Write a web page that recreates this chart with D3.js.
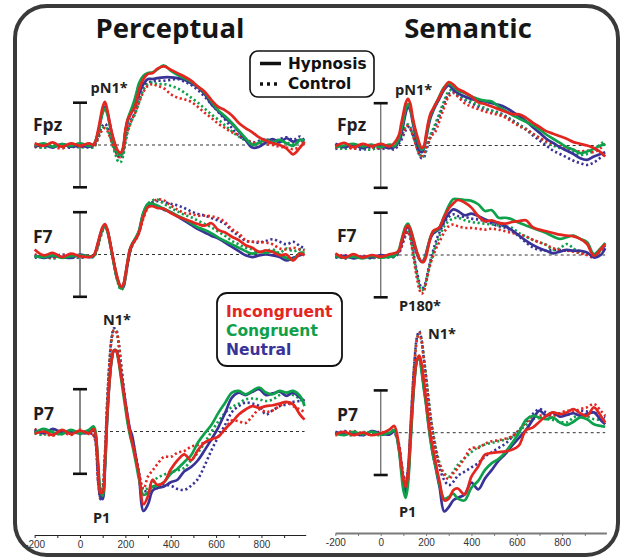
<!doctype html>
<html>
<head>
<meta charset="utf-8">
<style>
body { margin: 0; background: white; }
svg text { font-family: "Open Sans", Lato, sans-serif; }
</style>
<script src="https://cdnjs.cloudflare.com/ajax/libs/d3/7.8.5/d3.min.js"></script>
</head>
<body>
<div id="chart"></div>
<script>
// time points (ms)
var times = [-200,-160,-120,-80,-40,0,40,60, 80,90,100,110,120,130,140,150,160,170,180,190,200,210,220,230,240,250,260, 280,300,320,340, 370,400,430,460,490,520,550,580,610,640,670,700,730,760,790,820,850,880,910,940,970,990];

// amplitudes in microvolts (negative plotted up). H = hypnosis, C = control
// Perceptual - Fpz
var pFpzIncH = [-0.2,0.1,-0.3,0.2,-0.2,0.1,-0.2,0.0, -1.8,-3.2,-4.5,-5.1,-4.2,-2.8,-1.5,-0.5,0.3,0.8,0.9,0.3,-1.8,-3.0,-3.5,-4.0,-4.4,-5.3,-6.5, -7.8,-8.4,-8.5,-9.0, -9.3,-8.9,-8.5,-8.1,-7.6,-6.9,-6.3,-5.3,-4.5,-4.1,-3.5,-2.6,-2.0,-1.5,-0.9,-0.5,-0.2,0.0,0.4,1.1,0.3,-0.4];
var pFpzConH = [0.1,-0.2,0.2,-0.1,0.1,-0.2,0.1,-0.1, -1.4,-2.7,-3.8,-4.3,-3.7,-2.5,-1.2,-0.2,0.6,1.1,1.2,0.5,-1.5,-3.0,-3.8,-4.5,-5.3,-6.3,-7.3, -8.2,-8.5,-8.6,-8.9, -9.4,-8.8,-8.3,-7.9,-7.5,-6.9,-6.2,-5.1,-4.1,-3.4,-2.6,-1.7,-0.8,0.0,-0.3,-0.6,-0.3,-0.6,-0.2,0.1,-0.6,-0.5];
var pFpzNeuH = [0.2,0.0,0.3,-0.1,0.2,0.1,0.2,0.0, -1.5,-2.8,-4.0,-4.5,-3.9,-2.7,-1.4,-0.4,0.5,0.9,1.0,0.4,-1.5,-2.8,-3.5,-4.0,-4.5,-5.2,-6.0, -7.2,-7.8,-7.8,-7.9, -8.0,-8.0,-7.9,-7.7,-7.3,-6.8,-6.0,-4.8,-4.0,-3.2,-2.5,-1.6,-0.6,0.3,0.2,-0.3,-0.7,-0.3,-0.8,-0.4,-0.6,-0.5];
var pFpzIncC = [0.3,-0.1,0.2,0.4,0.0,0.2,0.1,0.2, -0.8,-1.4,-1.8,-2.0,-1.7,-1.1,-0.3,0.4,1.0,1.4,1.4,0.8,-0.6,-1.7,-2.4,-3.1,-3.6,-4.3,-5.0, -6.3,-7.0,-7.2,-7.0, -6.7,-6.0,-5.6,-5.4,-5.1,-4.5,-3.8,-3.2,-2.5,-2.0,-1.5,-1.2,-0.7,-0.3,-0.2,-0.1,0.0,0.2,0.3,0.5,0.2,-0.2];
var pFpzConC = [0.2,0.3,0.0,0.3,0.1,0.3,0.2,0.3, -0.8,-1.5,-2.0,-2.2,-1.9,-1.2,-0.3,0.6,1.4,2.0,2.0,1.3,-0.2,-1.5,-2.3,-3.0,-3.5,-4.2,-5.0, -6.5,-7.2,-7.4,-7.2, -7.2,-7.0,-6.7,-6.2,-5.6,-5.0,-4.3,-3.6,-3.0,-2.3,-1.6,-1.0,-0.5,-0.1,-0.1,-0.4,-0.2,-0.5,-0.3,-0.1,-0.4,-0.4];
var pFpzNeuC = [0.1,0.3,0.1,0.2,0.3,0.0,0.3,0.1, -1.0,-1.8,-2.3,-2.5,-2.2,-1.5,-0.6,0.2,0.9,1.4,1.5,1.0,-0.5,-1.8,-2.6,-3.2,-3.7,-4.5,-5.3, -6.8,-7.4,-7.5,-7.6, -7.6,-7.7,-7.8,-7.5,-7.1,-6.5,-5.7,-4.8,-3.9,-3.0,-2.0,-1.1,-0.6,-0.3,-0.5,-0.7,-0.4,-0.7,-0.9,-0.6,-1.0,-0.5];

// Perceptual - F7
var pF7IncH = [-0.6,0.1,-0.2,0.3,-0.1,0.2,0.3,0.1, -1.5,-2.5,-3.3,-3.6,-3.0,-1.8,-0.4,1.0,2.2,3.2,3.8,3.6,2.4,0.8,-0.6,-1.2,-1.6,-2.0,-2.6, -4.5,-5.6,-5.7,-5.5, -5.4,-4.9,-4.5,-4.2,-3.9,-3.6,-3.4,-3.7,-2.9,-2.6,-2.1,-1.7,-1.1,-0.8,-0.3,-0.5,-0.3,0.1,0.0,0.7,-0.1,0.1];
var pF7ConH = [0.2,0.3,0.1,0.4,0.2,0.1,0.2,0.2, -1.3,-2.3,-3.0,-3.3,-2.8,-1.6,-0.2,1.2,2.5,3.4,4.0,3.7,2.5,0.8,-0.6,-1.3,-1.7,-2.2,-2.8, -5.0,-6.0,-6.0,-5.8, -5.4,-5.0,-4.6,-4.2,-3.7,-3.2,-2.9,-2.5,-2.0,-1.6,-1.2,-0.8,-0.4,-0.1,-0.3,-0.2,-0.4,0.0,0.4,0.6,-0.2,-0.2];
var pF7NeuH = [0.1,0.4,0.2,0.3,0.4,0.0,0.3,0.2, -1.4,-2.4,-3.1,-3.4,-2.9,-1.7,-0.3,1.1,2.4,3.3,3.9,3.7,2.5,0.9,-0.5,-1.2,-1.7,-2.1,-2.7, -4.9,-5.9,-5.9,-5.7, -5.3,-5.0,-4.5,-4.0,-3.5,-3.0,-2.6,-2.2,-1.9,-1.4,-0.9,-0.4,0.1,0.3,0.1,0.0,0.1,0.3,0.7,0.4,0.1,-0.1];
var pF7IncC = [0.0,0.2,0.4,0.1,0.3,0.2,0.1,0.2, -1.2,-2.2,-3.0,-3.4,-3.0,-1.9,-0.5,1.0,2.4,3.4,4.0,3.9,2.8,1.2,-0.2,-1.0,-1.5,-1.9,-2.5, -4.3,-5.6,-6.2,-6.5, -6.4,-5.8,-5.3,-4.9,-4.8,-4.6,-4.6,-4.5,-4.3,-3.8,-3.0,-2.5,-1.7,-1.5,-1.5,-1.4,-1.2,-0.7,-0.6,-0.8,-0.6,-0.5];
var pF7ConC = [0.3,0.2,0.5,0.2,0.4,0.3,0.2,0.3, -1.0,-2.0,-2.8,-3.2,-2.9,-1.8,-0.4,1.1,2.6,3.6,4.2,4.0,2.9,1.2,-0.2,-1.0,-1.6,-2.1,-2.7, -4.8,-6.0,-6.4,-6.5, -6.0,-5.5,-5.1,-4.7,-4.4,-4.0,-3.6,-3.2,-2.7,-2.2,-1.6,-1.2,-0.8,-0.6,-0.3,-0.4,-0.6,-0.2,-0.7,-0.4,-0.6,-0.6];
var pF7NeuC = [0.4,0.1,0.3,0.0,0.2,0.4,0.2,0.1, -1.1,-2.1,-2.9,-3.3,-2.9,-1.8,-0.4,1.0,2.4,3.4,4.0,3.9,2.8,1.1,-0.3,-1.1,-1.6,-2.1,-2.7, -4.6,-5.8,-6.2,-6.3, -6.2,-6.0,-5.8,-5.5,-5.1,-4.8,-4.6,-4.3,-4.0,-3.6,-2.8,-2.2,-1.6,-1.5,-1.4,-1.6,-1.8,-1.5,-1.2,-1.5,-1.0,-0.7];

// Perceptual - P7
var pP7IncH = [0.3,0.0,0.4,-0.2,0.3,-0.1,0.2,-0.3, 4.0,7.2,7.2,3.5,-2.0,-6.0,-8.6,-9.6,-9.5,-8.5,-6.8,-5.1,-3.3,-1.6,0.0,1.3,2.4,3.7,5.0, 8.6,7.6,5.7,6.3, 6.0,4.5,3.4,2.7,3.4,2.2,1.3,0.9,0.6,-0.3,-1.1,-2.0,-2.6,-3.0,-2.8,-3.0,-3.1,-3.3,-3.5,-3.2,-2.0,-1.4];
var pP7ConH = [0.2,-0.3,0.1,0.3,-0.2,0.2,-0.2,-0.6, 3.8,7.0,7.6,4.2,-1.8,-6.0,-8.6,-9.6,-9.5,-8.3,-6.5,-4.6,-2.8,-1.0,0.4,1.5,2.8,4.2,5.6, 7.5,7.2,6.5,6.4, 6.0,5.0,4.4,3.6,2.8,1.3,0.2,-0.8,-2.2,-3.4,-4.6,-4.8,-4.4,-4.8,-5.2,-4.6,-4.4,-4.8,-4.6,-4.8,-4.2,-3.0];
var pP7NeuH = [-0.2,0.2,-0.3,0.1,0.0,0.2,0.1,-0.2, 4.5,7.5,8.0,4.5,-1.5,-5.8,-8.5,-9.6,-9.6,-8.6,-7.0,-5.3,-3.5,-1.8,-0.3,0.5,2.0,3.6,5.2, 9.4,8.6,7.0,6.7, 6.5,6.0,5.7,4.7,4.2,3.4,2.2,0.9,-0.5,-2.2,-4.0,-4.6,-4.3,-4.7,-5.0,-4.3,-4.5,-4.7,-4.2,-4.6,-4.0,-3.6];
var pP7IncC = [-0.3,0.2,0.5,0.1,0.4,-0.2,0.3,0.5, 6.0,7.8,6.5,2.5,-3.5,-8.0,-11.0,-12.0,-11.8,-10.5,-8.0,-5.5,-3.2,-1.2,0.3,1.2,2.2,3.5,5.0, 6.8,5.3,4.6,3.9, 3.0,3.0,2.5,2.3,1.8,1.6,1.3,1.0,0.6,-0.3,-1.3,-1.2,-1.0,-1.8,-2.6,-2.3,-2.5,-3.0,-3.4,-3.0,-2.6,-2.3];
var pP7ConC = [0.2,0.4,-0.2,0.3,0.0,0.3,0.1,0.4, 5.5,7.8,7.2,3.2,-3.2,-8.0,-11.0,-12.0,-11.8,-10.4,-8.0,-5.6,-3.3,-1.4,0.1,1.0,2.2,3.6,5.0, 6.8,6.7,6.0,5.5, 5.1,4.8,4.6,4.3,3.4,2.5,1.3,0.0,-1.2,-2.2,-2.9,-3.3,-3.8,-3.9,-3.8,-3.6,-3.8,-4.3,-4.5,-4.3,-3.8,-3.3];
var pP7NeuC = [0.1,-0.2,0.3,0.2,-0.1,0.1,0.2,0.4, 6.0,8.0,7.0,3.0,-3.5,-8.2,-11.2,-12.2,-12.0,-10.6,-8.2,-5.8,-3.5,-1.6,-0.2,0.8,2.0,3.5,5.0, 7.0,7.0,6.8,6.5, 6.3,6.4,6.8,6.9,6.4,5.6,4.0,2.2,0.6,-0.8,-2.3,-3.0,-3.4,-3.3,-3.0,-2.0,-2.5,-3.0,-3.2,-3.5,-3.6,-3.6];

// Semantic - Fpz
var sFpzIncH = [0.1,-0.3,0.2,-0.2,0.1,-0.2,0.1,-0.3, -1.2,-2.5,-3.8,-5.0,-5.5,-5.0,-3.5,-2.2,-1.2,-0.3,0.3,0.1,-1.3,-2.8,-3.8,-4.3,-4.8,-5.3,-5.8, -6.8,-7.5,-7.2,-6.7, -6.3,-5.8,-5.1,-4.9,-4.6,-4.3,-4.0,-3.7,-3.7,-3.3,-2.7,-2.2,-1.7,-1.4,-1.1,-0.8,-0.4,-0.2,0.0,0.3,0.8,1.3];
var sFpzConH = [0.2,0.0,-0.2,0.1,-0.1,0.2,-0.1,0.1, -0.8,-1.8,-3.0,-4.3,-4.9,-4.5,-3.2,-2.0,-0.9,0.0,0.5,0.3,-1.0,-2.5,-3.6,-4.2,-4.8,-5.3,-5.9, -6.9,-7.3,-7.0,-6.5, -6.2,-5.8,-5.5,-5.3,-5.2,-4.6,-4.1,-3.6,-3.2,-2.8,-2.4,-1.9,-1.3,-0.8,-0.3,0.2,0.5,0.9,0.7,0.4,0.0,-0.1];
var sFpzNeuH = [-0.2,0.2,-0.1,0.3,0.0,0.1,0.3,0.2, -0.5,-1.3,-2.5,-3.8,-4.6,-4.2,-2.9,-1.6,-0.5,0.5,0.8,0.4,-0.8,-2.2,-3.3,-4.0,-4.6,-5.1,-5.6, -6.6,-7.1,-6.6,-6.2, -5.8,-5.5,-5.3,-5.2,-5.0,-4.8,-4.5,-4.0,-3.5,-2.9,-2.2,-1.5,-0.8,-0.3,0.2,0.6,1.0,1.5,1.7,1.3,1.0,0.8];
var sFpzIncC = [0.3,0.1,0.4,-0.1,0.2,0.3,-0.1,0.2, -0.5,-1.0,-1.6,-2.1,-2.3,-2.0,-1.3,-0.5,0.3,0.9,1.2,0.9,0.2,-0.5,-1.0,-1.3,-1.6,-2.2,-3.0, -4.5,-5.8,-6.2,-5.8, -5.0,-4.6,-4.3,-4.0,-3.8,-3.6,-3.3,-2.8,-2.3,-1.9,-1.4,-0.9,-0.5,-0.2,0.1,0.3,0.5,0.7,0.6,0.8,0.3,-0.3];
var sFpzConC = [0.2,0.4,0.1,0.3,0.5,0.1,0.3,0.2, -0.4,-1.0,-1.6,-2.2,-2.5,-2.2,-1.4,-0.6,0.3,1.0,1.4,1.2,0.4,-0.5,-1.3,-1.9,-2.5,-3.2,-3.9, -5.3,-6.4,-6.6,-6.0, -5.5,-5.2,-4.8,-4.4,-4.1,-3.8,-3.4,-2.9,-2.4,-2.0,-1.4,-0.9,-0.4,0.0,0.3,0.5,0.8,1.1,1.0,0.6,-0.2,-0.5];
var sFpzNeuC = [0.4,0.2,0.3,0.5,0.2,0.4,0.3,0.5, -0.2,-0.6,-1.2,-1.8,-2.2,-2.0,-1.4,-0.6,0.3,1.1,1.5,1.4,0.7,-0.2,-1.0,-1.6,-2.2,-2.9,-3.6, -5.0,-6.1,-6.3,-5.9, -5.4,-5.0,-4.6,-4.3,-4.1,-3.9,-3.5,-3.0,-2.5,-1.9,-1.2,-0.6,0.0,0.6,1.0,1.4,1.8,2.1,2.3,2.0,1.4,0.9];

// Semantic - F7
var sF7IncH = [-0.2,0.3,-0.1,0.3,0.0,0.2,-0.1,-0.2, -0.5,-1.4,-2.4,-3.2,-3.5,-3.1,-2.2,-1.2,-0.3,0.4,0.8,0.8,0.2,-1.0,-2.1,-2.8,-3.0,-3.1,-3.3, -4.5,-5.5,-6.1,-6.5, -6.2,-5.6,-4.6,-4.0,-4.1,-3.8,-3.7,-3.9,-4.0,-4.1,-3.3,-3.0,-2.8,-2.6,-2.4,-2.3,-2.2,-1.9,-1.3,0.1,-0.7,-1.3];
var sF7ConH = [0.1,0.3,0.2,0.4,0.1,0.3,0.2,0.1, -0.6,-1.6,-2.6,-3.4,-3.7,-3.2,-2.3,-1.3,-0.3,0.4,0.8,0.7,0.0,-1.2,-2.2,-2.7,-2.9,-3.0,-3.3, -4.6,-5.8,-6.6,-6.6, -6.5,-6.4,-6.0,-5.2,-5.3,-4.4,-4.4,-4.2,-3.8,-3.5,-3.2,-2.9,-2.6,-2.2,-1.9,-2.1,-2.3,-1.9,-1.5,-0.1,-0.8,-1.4];
var sF7NeuH = [0.3,0.1,0.4,0.2,0.3,0.0,0.2,0.1, -0.4,-1.2,-2.2,-3.0,-3.3,-2.9,-2.0,-1.0,-0.1,0.5,0.8,0.6,-0.2,-1.2,-2.0,-2.5,-2.7,-2.9,-3.1, -4.0,-4.9,-5.4,-5.2, -4.7,-4.9,-4.6,-4.2,-3.9,-3.8,-3.4,-2.9,-2.3,-1.7,-1.2,-0.8,-0.5,-0.2,-0.4,-0.6,-0.5,-0.5,-0.3,0.3,0.0,-0.8];
var sF7IncC = [0.2,0.0,0.3,0.1,0.2,0.3,0.0,0.1, -0.3,-0.9,-1.7,-2.4,-2.8,-2.0,-0.5,1.2,2.8,4.0,4.6,4.3,3.3,2.0,1.0,0.2,-0.5,-1.1,-1.6, -2.7,-3.4,-3.6,-3.4, -3.2,-3.2,-3.1,-3.0,-3.1,-3.0,-2.8,-2.6,-2.4,-2.2,-1.8,-1.5,-1.2,-0.8,-0.6,-0.5,-0.4,-0.2,0.0,0.3,-0.5,-1.1];
var sF7ConC = [0.3,0.2,0.1,0.3,0.4,0.2,0.1,0.2, -0.4,-1.1,-1.9,-2.6,-3.0,-2.3,-0.8,0.8,2.3,3.5,4.2,4.0,3.1,1.9,0.8,-0.1,-0.9,-1.6,-2.3, -3.4,-4.0,-4.3,-4.4, -4.1,-3.9,-3.8,-3.7,-3.6,-3.5,-3.4,-3.2,-2.6,-2.2,-1.8,-1.5,-1.2,-0.6,-0.8,-1.3,-0.8,-0.2,-0.2,0.1,-0.6,-1.4];
var sF7NeuC = [0.1,0.4,0.2,0.2,0.3,0.1,0.3,0.2, -0.2,-0.8,-1.6,-2.3,-2.8,-2.2,-0.9,0.6,2.0,3.2,3.9,3.8,3.0,1.7,0.6,-0.4,-1.3,-2.1,-2.7, -3.8,-4.5,-4.8,-4.6, -4.5,-4.3,-4.2,-4.0,-3.7,-3.4,-3.2,-2.8,-2.2,-1.5,-0.9,-0.6,-0.5,-0.6,-0.6,-0.5,-0.6,-0.4,-0.2,0.1,-0.6,-1.2];

// Semantic - P7
var sP7IncH = [0.2,-0.1,0.3,0.0,0.3,0.1,-0.4,-0.8, 1.5,3.5,5.5,6.4,5.0,1.0,-3.5,-6.8,-8.6,-9.1,-8.2,-6.2,-3.9,-1.7,0.4,1.8,3.2,4.6,5.8, 8.0,7.8,6.8,6.6, 7.3,5.2,4.0,2.6,2.4,2.3,2.2,2.0,1.5,-0.3,-0.6,-1.3,-2.0,-2.4,-2.2,-2.4,-2.8,-2.3,-2.0,-3.0,-2.0,-1.2];
var sP7ConH = [0.1,0.3,-0.1,0.2,-0.1,0.2,0.0,-0.3, 2.0,4.5,6.8,7.7,6.2,2.0,-2.8,-6.5,-8.5,-8.8,-7.3,-5.2,-3.3,-1.0,1.0,2.6,3.8,5.0,6.2, 7.8,7.6,7.2,7.8, 8.0,6.5,5.7,4.4,3.6,3.1,2.3,1.2,0.0,-1.5,-2.0,-1.8,-1.6,-1.8,-1.2,-0.9,-1.3,-1.8,-1.6,-1.0,-0.8,-0.7];
var sP7NeuH = [-0.1,0.2,0.0,0.3,-0.2,0.1,0.2,-0.3, 1.8,4.0,6.0,7.0,5.5,1.5,-3.0,-6.6,-8.6,-9.0,-7.5,-5.5,-3.5,-1.2,0.8,2.5,3.8,5.2,6.5, 9.3,8.8,8.0,7.7, 7.3,5.9,6.7,5.4,4.4,3.3,2.5,1.5,0.6,-0.3,-1.5,-2.6,-2.0,-2.4,-1.9,-2.1,-2.3,-2.0,-2.2,-2.4,-1.5,-1.0];
var sP7IncC = [0.3,0.1,-0.2,0.2,0.1,-0.1,0.2,-0.3, 1.5,3.5,5.3,6.0,4.5,0.3,-4.5,-8.5,-11.0,-11.8,-10.8,-8.6,-6.2,-3.8,-1.6,0.3,1.8,3.0,3.9, 5.0,5.5,4.8,4.2, 3.0,1.8,1.8,1.3,1.0,0.9,0.7,0.4,-0.3,-1.2,-1.8,-2.0,-2.1,-2.0,-2.3,-2.6,-2.5,-2.8,-3.0,-3.4,-2.6,-2.0];
var sP7ConC = [0.0,0.2,0.3,-0.1,0.2,0.3,0.0,0.1, 1.4,3.4,5.2,6.0,4.5,0.2,-4.6,-8.6,-11.1,-11.8,-11.0,-9.0,-6.8,-4.4,-2.0,-0.2,1.3,2.6,3.6, 4.8,5.2,4.6,3.8, 3.0,2.3,1.7,1.4,1.2,1.0,0.8,0.5,-0.2,-0.9,-1.6,-1.7,-1.6,-1.5,-1.3,-1.2,-1.8,-2.1,-1.9,-1.6,-1.5,-1.3];
var sP7NeuC = [0.2,-0.2,0.1,0.3,0.0,0.2,-0.1,0.0, 1.3,3.2,5.0,5.8,4.3,0.0,-4.8,-8.8,-11.3,-12.0,-11.0,-8.8,-6.5,-4.0,-1.8,0.0,1.6,3.0,4.2, 5.6,6.2,5.8,5.1, 4.6,4.1,3.6,2.8,2.3,1.8,1.3,0.5,-0.3,-1.3,-2.2,-2.8,-2.4,-2.2,-2.3,-2.1,-2.4,-2.6,-2.5,-2.4,-2.0,-1.8];

var xTicks = [-200,-100,0,100,200,300,400,500,600,700,800,900];

var width = 622, height = 557;
var colors = {inc: "#e3261f", con: "#0fa04b", neu: "#3a3397"};

var svg = d3.select("#chart").append("svg")
    .attr("width", width)
    .attr("height", height);

// outer rounded frame
svg.append("rect")
    .attr("x", 15).attr("y", 6)
    .attr("width", 603).attr("height", 549)
    .attr("rx", 32)
    .attr("fill", "none")
    .attr("stroke", "#3a3a3a")
    .attr("stroke-width", 4);

var columns = [
  {title: "Perceptual", titleX: 170, zero: 80, axisY: 535, grey: false},
  {title: "Semantic", titleX: 468, zero: 380.7, axisY: 533, grey: true}
];
var pxPerMs = 0.2268;

function group(neuC, conC, incC, neuH, conH, incH) {
  return [
    {v: neuC, c: "neu", dot: true}, {v: conC, c: "con", dot: true}, {v: incC, c: "inc", dot: true},
    {v: neuH, c: "neu", dot: false}, {v: conH, c: "con", dot: false}, {v: incH, c: "inc", dot: false}
  ];
}

var panels = [
  {col: 0, name: "Fpz", base: 145, labelY: 131, series: group(pFpzNeuC, pFpzConC, pFpzIncC, pFpzNeuH, pFpzConH, pFpzIncH)},
  {col: 0, name: "F7", base: 254.5, labelY: 242.5, series: group(pF7NeuC, pF7ConC, pF7IncC, pF7NeuH, pF7ConH, pF7IncH)},
  {col: 0, name: "P7", base: 431.5, labelY: 420, series: group(pP7NeuC, pP7ConC, pP7IncC, pP7NeuH, pP7ConH, pP7IncH)},
  {col: 1, name: "Fpz", base: 145.5, labelY: 131, series: group(sFpzNeuC, sFpzConC, sFpzIncC, sFpzNeuH, sFpzConH, sFpzIncH)},
  {col: 1, name: "F7", base: 255, labelY: 242, series: group(sF7NeuC, sF7ConC, sF7IncC, sF7NeuH, sF7ConH, sF7IncH)},
  {col: 1, name: "P7", base: 432.7, labelY: 420.5, series: group(sP7NeuC, sP7ConC, sP7IncC, sP7NeuH, sP7ConH, sP7IncH)}
];

columns.forEach(function(col) {
  col.x = d3.scaleLinear().domain([0, 1000]).range([col.zero, col.zero + 1000 * pxPerMs]);

  svg.append("text")
      .attr("x", col.titleX).attr("y", 38)
      .attr("text-anchor", "middle")
      .style("font-size", "27.5px").style("font-weight", "bold")
      .attr("fill", "#161616")
      .text(col.title);

  // time axis
  var axScale = d3.scaleLinear().domain([-200, 995]).range([col.x(-200), col.x(995)]);
  var ax = svg.append("g")
      .attr("transform", "translate(0," + col.axisY + ")")
      .call(d3.axisBottom(axScale).tickValues(xTicks).tickSize(3).tickSizeOuter(0)
        .tickFormat(function(d) { return d % 200 === 0 ? d : ""; }));
  ax.select(".domain").attr("stroke", col.grey ? "#7a7a7a" : "#222").attr("stroke-width", col.grey ? 2 : 1.2);
  ax.selectAll(".tick line").attr("stroke", col.grey ? "#7a7a7a" : "#222");
  ax.selectAll("text").style("font-family", "'Liberation Sans', Arial, sans-serif")
      .style("font-size", "10px").attr("fill", "#333");
});

var line = d3.line().curve(d3.curveCatmullRom.alpha(0.5));

panels.forEach(function(p) {
  var col = columns[p.col];
  var x = col.x;
  var y = d3.scaleLinear().domain([-5, 5]).range([p.base - 42.3, p.base + 42.3]);
  var g = svg.append("g");

  // zero line
  g.append("line")
      .attr("x1", x(0)).attr("x2", x(990))
      .attr("y1", y(0)).attr("y2", y(0))
      .attr("stroke", "#333").attr("stroke-width", 1)
      .attr("stroke-dasharray", "3,3");

  // amplitude scale bar
  g.append("line")
      .attr("x1", x(0)).attr("x2", x(0))
      .attr("y1", y(-5)).attr("y2", y(5))
      .attr("stroke", col.grey ? "#777" : "#111")
      .attr("stroke-width", col.grey ? 1.4 : 1);
  [-5, 5].forEach(function(v) {
    g.append("line")
        .attr("x1", x(0) - 7).attr("x2", x(0) + 7)
        .attr("y1", y(v)).attr("y2", y(v))
        .attr("stroke", "#111").attr("stroke-width", 2.6);
  });

  line.x(function(d) { return x(d[0]); }).y(function(d) { return y(d[1]); });
  p.series.forEach(function(s) {
    g.append("path")
        .attr("d", line(d3.zip(times, s.v)))
        .attr("fill", "none")
        .attr("stroke", colors[s.c])
        .attr("stroke-width", s.dot ? 2.6 : 2.7)
        .attr("stroke-linejoin", "round")
        .attr("stroke-dasharray", s.dot ? "2.2,2.6" : null);
  });

  svg.append("text")
      .attr("x", p.col === 0 ? 33 : 337).attr("y", p.labelY)
      .style("font-size", "17.5px").style("font-weight", "bold")
      .attr("fill", "#1e1e1e")
      .text(p.name);
});

// peak labels
var peaks = [
  {t: "pN1*", x: 90.5, y: 93}, {t: "pN1*", x: 395, y: 95},
  {t: "N1*", x: 103, y: 325}, {t: "P1", x: 93, y: 522.5},
  {t: "P180*", x: 399, y: 311}, {t: "N1*", x: 428, y: 339}, {t: "P1", x: 399, y: 516.5}
];
svg.selectAll(".peak").data(peaks).enter().append("text")
    .attr("class", "peak")
    .attr("x", function(d) { return d.x; })
    .attr("y", function(d) { return d.y; })
    .style("font-size", "14.5px").style("font-weight", "bold")
    .attr("fill", "#222")
    .text(function(d) { return d.t; });

// legend: hypnosis / control
var lg = svg.append("g");
lg.append("rect").attr("x", 250).attr("y", 51).attr("width", 124).attr("height", 46).attr("rx", 8)
    .attr("fill", "white").attr("stroke", "#111").attr("stroke-width", 1.6);
lg.append("line").attr("x1", 260).attr("x2", 281).attr("y1", 63.5).attr("y2", 63.5)
    .attr("stroke", "#111").attr("stroke-width", 3.5);
lg.append("line").attr("x1", 260).attr("x2", 281).attr("y1", 84).attr("y2", 84)
    .attr("stroke", "#111").attr("stroke-width", 3.5).attr("stroke-dasharray", "3,4");
[["Hypnosis", 69], ["Control", 89]].forEach(function(d) {
  lg.append("text").attr("x", 288).attr("y", d[1])
      .style("font-family", "'DejaVu Sans', sans-serif")
      .style("font-size", "15.3px").style("font-weight", "bold")
      .attr("fill", "#111").text(d[0]);
});

// legend: conditions
var cg = svg.append("g");
cg.append("rect").attr("x", 217).attr("y", 293).attr("width", 125).attr("height", 73).attr("rx", 10)
    .attr("fill", "white").attr("stroke", "#111").attr("stroke-width", 1.8);
[["Incongruent", "inc", 317], ["Congruent", "con", 336], ["Neutral", "neu", 355]].forEach(function(d) {
  cg.append("text").attr("x", 226).attr("y", d[2])
      .style("font-family", "'DejaVu Sans', sans-serif")
      .style("font-size", "15.5px").style("font-weight", "bold")
      .attr("fill", colors[d[1]]).text(d[0]);
});
</script>
</body>
</html>
